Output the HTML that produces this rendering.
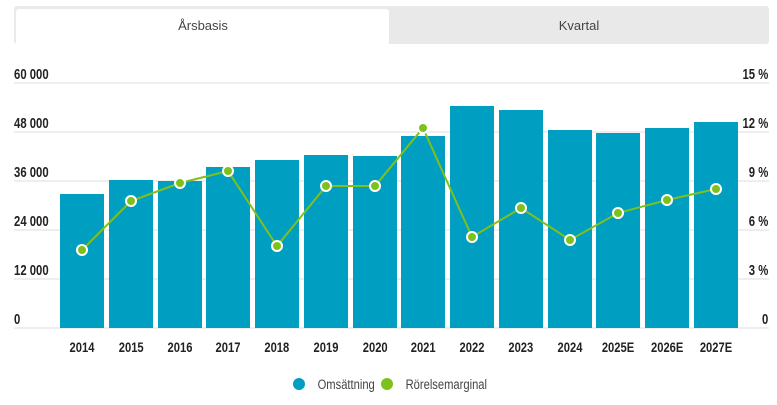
<!DOCTYPE html><html><head><style>body{margin:0;background:#fff;font-family:"Liberation Sans",sans-serif}</style></head><body>
<svg width="777" height="400" xmlns="http://www.w3.org/2000/svg" font-family="Liberation Sans, sans-serif">
<rect x="14" y="6" width="755" height="38" fill="#e9e9e9" rx="3"/>
<rect x="16" y="9" width="373" height="36" fill="#fff" rx="3"/>
<text x="203" y="30" font-size="13" fill="#444" text-anchor="middle">Årsbasis</text>
<text x="579" y="30" font-size="13" fill="#444" text-anchor="middle">Kvartal</text>
<g stroke="#ddd" stroke-width="1">
<line x1="14" x2="769" y1="83" y2="83"/><line x1="14" x2="769" y1="132" y2="132"/><line x1="14" x2="769" y1="181" y2="181"/><line x1="14" x2="769" y1="230" y2="230"/><line x1="14" x2="769" y1="279" y2="279"/><line x1="14" x2="769" y1="328" y2="328"/></g>
<g font-size="14.5" font-weight="bold" fill="#222" transform="scale(0.78,1)">
<text x="18" y="79">60 000</text><text x="18" y="128">48 000</text><text x="18" y="177">36 000</text><text x="18" y="226">24 000</text><text x="18" y="275">12 000</text><text x="18" y="324">0</text>
<g text-anchor="end"><text x="985" y="79">15 %</text><text x="985" y="128">12 %</text><text x="985" y="177">9 %</text><text x="985" y="226">6 %</text><text x="985" y="275">3 %</text><text x="985" y="324">0</text></g></g>
<g fill="#009fc2">
<rect x="60" y="194" width="44" height="134"/><rect x="109" y="180" width="44" height="148"/><rect x="158" y="181" width="44" height="147"/><rect x="206" y="167" width="44" height="161"/><rect x="255" y="160" width="44" height="168"/><rect x="304" y="155" width="44" height="173"/><rect x="353" y="156" width="44" height="172"/><rect x="401" y="136" width="44" height="192"/><rect x="450" y="106" width="44" height="222"/><rect x="499" y="110" width="44" height="218"/><rect x="548" y="130" width="44" height="198"/><rect x="596" y="133" width="44" height="195"/><rect x="645" y="128" width="44" height="200"/><rect x="694" y="122" width="44" height="206"/></g>
<polyline fill="none" stroke="#7ec11a" stroke-width="2" points="82,250 131,201 180,183 228,171 277,246 326,186 375,186 423,128 472,237 521,208 570,240 618,213 667,200 716,189"/>
<g fill="#7ec11a" stroke="#fff" stroke-width="2">
<circle cx="82" cy="250" r="5"/><circle cx="131" cy="201" r="5"/><circle cx="180" cy="183" r="5"/><circle cx="228" cy="171" r="5"/><circle cx="277" cy="246" r="5"/><circle cx="326" cy="186" r="5"/><circle cx="375" cy="186" r="5"/><circle cx="423" cy="128" r="5"/><circle cx="472" cy="237" r="5"/><circle cx="521" cy="208" r="5"/><circle cx="570" cy="240" r="5"/><circle cx="618" cy="213" r="5"/><circle cx="667" cy="200" r="5"/><circle cx="716" cy="189" r="5"/></g>
<g font-size="14" font-weight="bold" fill="#222" text-anchor="middle" transform="scale(0.8,1)">
<text x="102.5" y="352">2014</text><text x="164" y="352">2015</text><text x="225" y="352">2016</text><text x="285" y="352">2017</text><text x="346" y="352">2018</text><text x="407.5" y="352">2019</text><text x="469" y="352">2020</text><text x="529" y="352">2021</text><text x="590" y="352">2022</text><text x="651" y="352">2023</text><text x="712.5" y="352">2024</text><text x="772.5" y="352">2025E</text><text x="834" y="352">2026E</text><text x="895" y="352">2027E</text></g>
<circle cx="299" cy="384" r="6" fill="#009fc2"/><circle cx="387" cy="384" r="6" fill="#7ec11a"/>
<g font-size="14" fill="#444" transform="scale(0.8,1)"><text x="397" y="389">Omsättning</text><text x="507" y="389">Rörelsemarginal</text></g>
</svg></body></html>
